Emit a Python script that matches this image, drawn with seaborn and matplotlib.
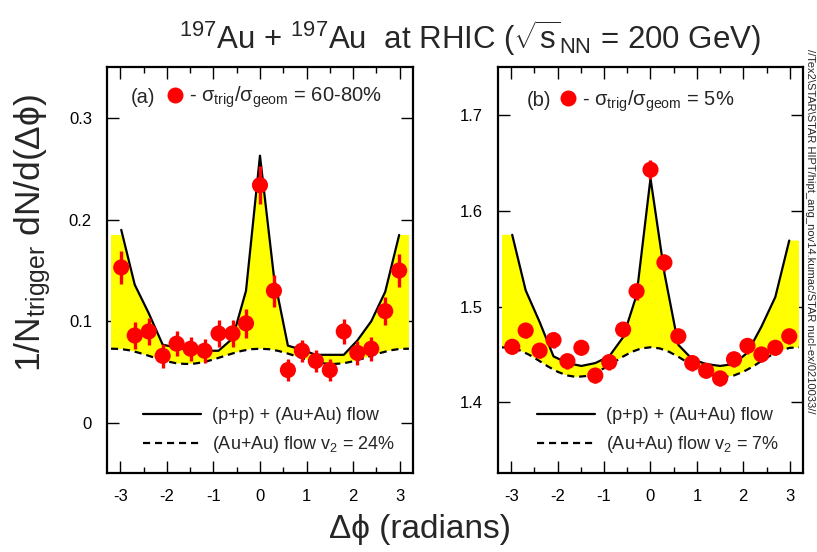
import numpy as np
import matplotlib
matplotlib.use("Agg")
import matplotlib.pyplot as plt
import seaborn as sns
from matplotlib.lines import Line2D
from matplotlib.ticker import MultipleLocator, FixedLocator

# ---- data -------------------------------------------------------------
# bin centres (radians)
dphi = [-2.98, -2.69, -2.39, -2.09, -1.79, -1.49, -1.19, -0.89, -0.59, -0.30,
        0.00, 0.30, 0.60, 0.90, 1.20, 1.50, 1.80, 2.09, 2.39, 2.69, 2.99]

# (a) peripheral, 60-80%
periph_y = [0.153, 0.086, 0.090, 0.066, 0.078, 0.073, 0.071, 0.088, 0.088, 0.098,
            0.234, 0.130, 0.052, 0.071, 0.061, 0.052, 0.090, 0.069, 0.073, 0.110, 0.150]
periph_err = [0.016, 0.013, 0.013, 0.012, 0.012, 0.012, 0.012, 0.013, 0.013, 0.014,
              0.019, 0.016, 0.011, 0.011, 0.011, 0.011, 0.012, 0.012, 0.012, 0.014, 0.016]
periph_pp = [0.190, 0.136, 0.108, 0.077, 0.074, 0.072, 0.071, 0.071, 0.083, 0.130,
             0.263, 0.144, 0.076, 0.072, 0.067, 0.067, 0.067, 0.081, 0.100, 0.129, 0.185]
periph_edge = [0.185, 0.185]

# (b) central, 5%
central_y = [1.458, 1.475, 1.454, 1.465, 1.443, 1.457, 1.428, 1.442, 1.476, 1.516,
             1.643, 1.546, 1.469, 1.441, 1.433, 1.425, 1.445, 1.459, 1.450, 1.457, 1.469]
central_err = [0.008, 0.008, 0.008, 0.008, 0.008, 0.008, 0.008, 0.008, 0.008, 0.009,
               0.010, 0.009, 0.008, 0.008, 0.008, 0.008, 0.008, 0.008, 0.008, 0.008, 0.008]
central_pp = [1.575, 1.517, 1.484, 1.448, 1.441, 1.438, 1.441, 1.448, 1.468, 1.512,
              1.634, 1.535, 1.460, 1.445, 1.440, 1.438, 1.440, 1.452, 1.479, 1.510, 1.569]
central_edge = [1.575, 1.569]

# elliptic-flow background curves
flow_x = [-3.2, -3.0, -2.8, -2.6, -2.4, -2.2, -2.0, -1.8, -1.6, -1.4, -1.2, -1.0,
          -0.8, -0.6, -0.4, -0.2, 0.0, 0.2, 0.4, 0.6, 0.8, 1.0, 1.2, 1.4, 1.6,
          1.8, 2.0, 2.2, 2.4, 2.6, 2.8, 3.0, 3.2]
periph_flow = [0.0730, 0.0728, 0.0714, 0.0690, 0.0662, 0.0632, 0.0606, 0.0587, 0.0580,
               0.0584, 0.0599, 0.0624, 0.0653, 0.0682, 0.0708, 0.0725, 0.0730,
               0.0725, 0.0708, 0.0682, 0.0653, 0.0624, 0.0599, 0.0584, 0.0580,
               0.0587, 0.0606, 0.0632, 0.0662, 0.0690, 0.0714, 0.0728, 0.0730]
central_flow = [1.4574, 1.4569, 1.4540, 1.4493, 1.4434, 1.4372, 1.4319, 1.4281, 1.4265,
                1.4274, 1.4306, 1.4356, 1.4415, 1.4476, 1.4528, 1.4563, 1.4575,
                1.4563, 1.4528, 1.4476, 1.4415, 1.4356, 1.4306, 1.4274, 1.4265,
                1.4281, 1.4319, 1.4372, 1.4434, 1.4493, 1.4540, 1.4569, 1.4574]
band_span = [-3.2, 3.2]

# ---- style ------------------------------------------------------------
sns.set_theme(style="ticks")
plt.rcParams["font.family"] = ["Liberation Sans", "DejaVu Sans"]
plt.rcParams["mathtext.fontset"] = "custom"
plt.rcParams["mathtext.rm"] = "Liberation Sans"
plt.rcParams["mathtext.it"] = "Liberation Sans:italic"
plt.rcParams["mathtext.bf"] = "Liberation Sans:bold"

fig = plt.figure(figsize=(8.17, 5.52), dpi=100)
fig.patch.set_facecolor("white")
ax1 = fig.add_axes([0.1313, 0.1437, 0.3738, 0.7344])
ax2 = fig.add_axes([0.6099, 0.1437, 0.3726, 0.7344])


def draw_panel(ax, y, err, pp, edge, flow, ylim, yticks, tag, label, v2label):
    x = np.asarray(dphi)
    # yellow band between flow background and the p+p + flow curve
    top_x = [band_span[0]] + list(x) + [band_span[1]]
    top_y = ([edge[0], min(pp[0], edge[0])] + list(pp[1:-1])
             + [min(pp[-1], edge[1]), edge[1]])
    poly_x = np.concatenate([top_x, np.asarray(flow_x)[::-1]])
    poly_y = np.concatenate([top_y, np.asarray(flow)[::-1]])
    ax.fill(poly_x, poly_y, color="#ffff00", lw=0, zorder=1)

    sns.lineplot(x=x, y=pp, ax=ax, color="black", lw=1.6, zorder=3,
                 label="(p+p) + (Au+Au) flow")
    sns.lineplot(x=flow_x, y=flow, ax=ax, color="black", lw=1.6,
                 linestyle=(0, (3.2, 2.2)), zorder=3, label=v2label)

    ax.errorbar(x, y, yerr=err, fmt="none", ecolor="#ff0000",
                elinewidth=2.4, capsize=0, zorder=4)
    sns.scatterplot(x=x, y=y, ax=ax, color="#ff0000", s=135,
                    edgecolor="none", zorder=5, legend=False)

    ax.set_xlim(-3.28, 3.28)
    ax.set_ylim(*ylim)
    ax.set_xlabel("")
    ax.set_ylabel("")
    ax.xaxis.set_major_locator(FixedLocator([-3, -2, -1, 0, 1, 2, 3]))
    ax.xaxis.set_minor_locator(MultipleLocator(0.5))
    ax.yaxis.set_major_locator(FixedLocator(yticks))
    ax.set_xticklabels(["-3", "-2", "-1", "0", "1", "2", "3"])
    ax.set_yticklabels([("%g" % t) for t in yticks])
    ax.tick_params(which="both", direction="in", top=True, right=True,
                   color="black", width=1.0, labelsize=12, labelcolor="black")
    ax.tick_params(which="major", length=8.5)
    ax.tick_params(which="minor", length=4)
    ax.tick_params(axis="x", pad=12)
    ax.tick_params(axis="y", pad=11)
    for s in ax.spines.values():
        s.set_linewidth(1.6)
        s.set_color("black")
    ax.set_facecolor("white")

    # curve legend
    handles, labels = ax.get_legend_handles_labels()
    leg_lines = ax.legend(handles, labels, loc="center left",
                          bbox_to_anchor=(tag[2], 0.103), frameon=False,
                          fontsize=13, handlelength=3.2, handletextpad=0.6,
                          labelspacing=0.55, borderpad=0, borderaxespad=0)
    ax.add_artist(leg_lines)

    # centrality legend with panel tag
    ax.text(tag[0], tag[3], tag[1], transform=ax.transAxes, fontsize=14.5,
            ha="left", va="center")
    dot = Line2D([], [], marker="o", color="#ff0000", linestyle="none",
                 markersize=11.5, markeredgewidth=0)
    ax.legend([dot], [label], loc="center left",
              bbox_to_anchor=(tag[4], tag[3]), frameon=False, fontsize=14.5,
              handlelength=1.0, handletextpad=0.2, borderpad=0,
              borderaxespad=0)


draw_panel(ax1, periph_y, periph_err, periph_pp, periph_edge, periph_flow,
           (-0.049, 0.35), [0, 0.1, 0.2, 0.3],
           (0.076, "(a)", 0.117, 0.925, 0.190),
           r"- σ$_{\mathrm{trig}}$/σ$_{\mathrm{geom}}$ = 60-80%",
           r"(Au+Au) flow v$_{2}$ = 24%")
draw_panel(ax2, central_y, central_err, central_pp, central_edge, central_flow,
           (1.3265, 1.75), [1.4, 1.5, 1.6, 1.7],
           (0.092, "(b)", 0.127, 0.917, 0.197),
           r"- σ$_{\mathrm{trig}}$/σ$_{\mathrm{geom}}$ = 5%",
           r"(Au+Au) flow v$_{2}$ = 7%")

fig.text(0.575, 0.911,
         r"$^{197}$Au + $^{197}$Au  at RHIC ($\sqrt{\mathrm{s}}_{\mathrm{NN}}$ = 200 GeV)",
         fontsize=22.5, ha="center", va="baseline")
fig.text(0.040, 0.578, r"1/N$_{\mathrm{trigger}}$ dN/d(Δϕ)",
         fontsize=25.5, rotation=90, ha="center", va="center")
fig.text(0.514, 0.025, "Δϕ (radians)", fontsize=24, ha="center",
         va="baseline")
fig.text(0.991, 0.912,
         r"//Tex2\STAR\STAR HIPT/hipt_ang_nov14.kumac/STAR nucl-ex/0210033//",
         fontsize=8, rotation=-90, ha="center", va="top")

fig.savefig("out.png", dpi=100, facecolor="white")
